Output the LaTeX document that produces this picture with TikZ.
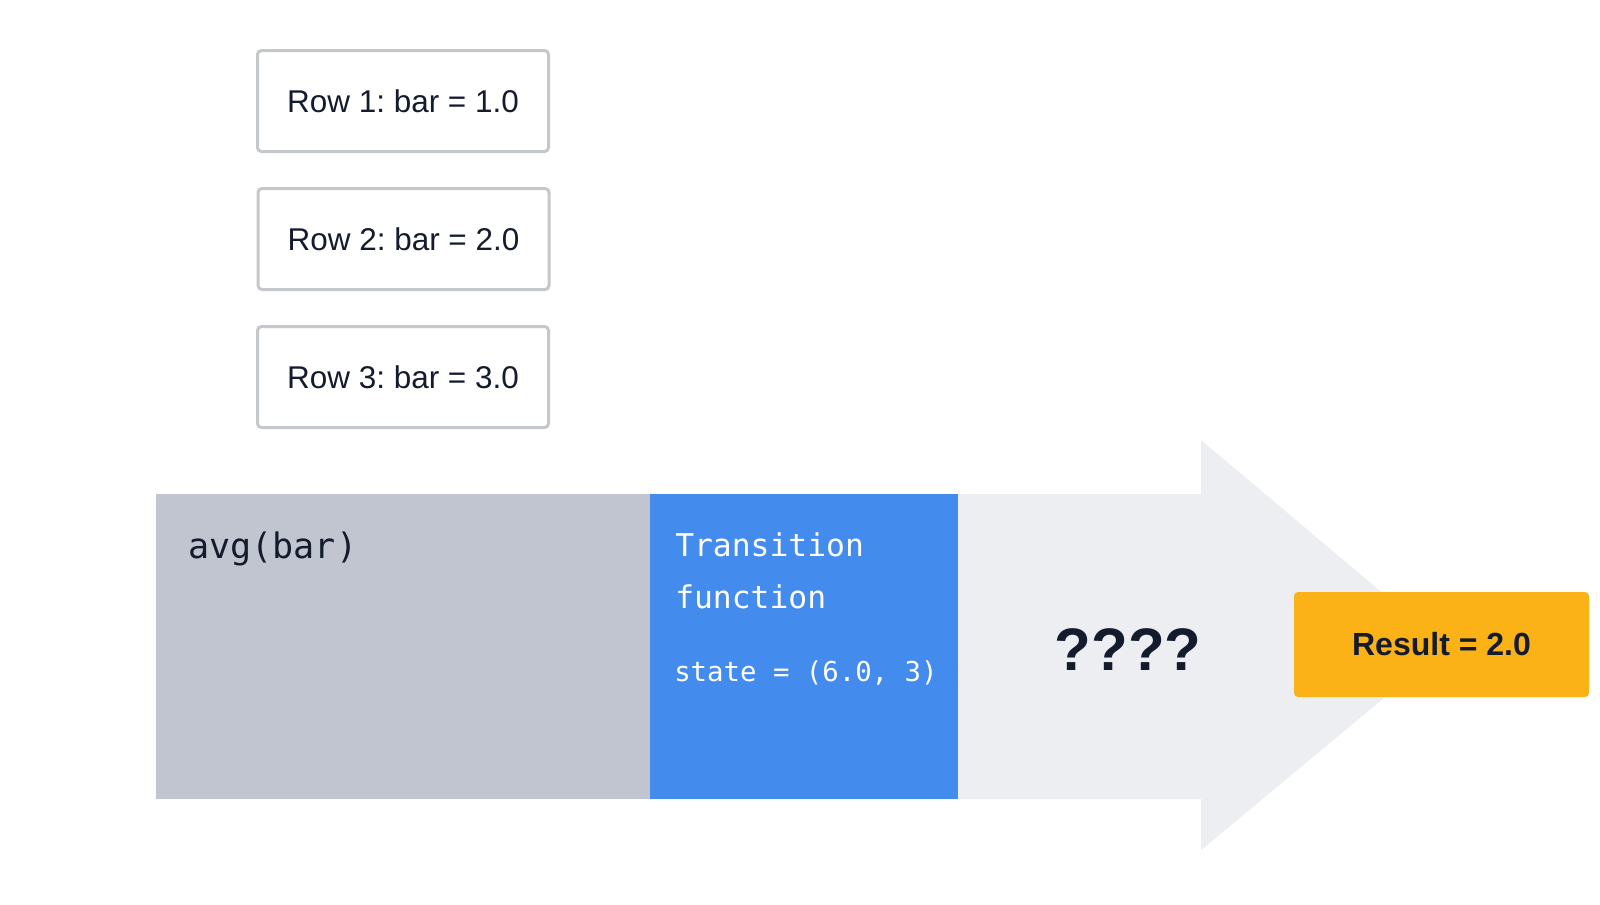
\documentclass[tikz,border=0pt]{standalone}
\usepackage{fontspec}
\setmainfont{Liberation Sans}
\setmonofont{DejaVu Sans Mono}
\frenchspacing
\definecolor{ink}{HTML}{141B2D}
\definecolor{rowborder}{HTML}{C4C7CC}
\definecolor{bodygray}{HTML}{C0C5CF}
\definecolor{arrowgray}{HTML}{ECEEF1}
\definecolor{fnblue}{HTML}{448BEE}
\definecolor{amber}{HTML}{FBB216}
\tikzset{
  rowbox/.style={draw=rowborder, line width=2.25pt, rounded corners=3pt, fill=white,
    minimum width=218.25pt, minimum height=75.75pt, inner sep=0pt,
    font=\fontsize{23.6pt}{28pt}\selectfont, text=ink},
  panel/.style={inner sep=0pt, outer sep=0pt, minimum height=228.75pt},
  codetitle/.style={anchor=base west, inner sep=0pt, font=\ttfamily\fontsize{23.5pt}{28pt}\selectfont},
  codesmall/.style={anchor=base west, inner sep=0pt, font=\ttfamily\fontsize{20.5pt}{25pt}\selectfont, text=white},
  resultbox/.style={fill=amber, rounded corners=3pt, minimum width=221.25pt, minimum height=78.75pt,
    inner sep=0pt, font=\bfseries\fontsize{24pt}{28pt}\selectfont, text=ink}
}
\begin{document}
\begin{tikzpicture}[x=0.75pt,y=-0.75pt]
\useasboundingbox[fill=white] (0,0) rectangle (1600,904);
% big arrow
\fill[arrowgray] (156,494) -- (1201,494) -- (1201,440) -- (1446,646.5) -- (1201,850) -- (1201,799) -- (156,799) -- cycle;
% panels
\node[panel, fill=bodygray, minimum width=370.5pt] (agg) at (403,646.5) {};
\node[panel, fill=fnblue, minimum width=231pt] (trans) at (804,646.5) {};
\node[codetitle, text=ink, font=\ttfamily\fontsize{26.3pt}{30pt}\selectfont] (avg) at (188,558) {avg(bar)};
\node[codetitle, text=white] (t1) at (675,556) {Transition};
\node[codetitle, text=white] (t2) at (675,608) {function};
\node[codesmall] (st) at (674,681) {state = (6.0, 3)};
% question marks
\node[anchor=base, inner sep=0pt, font=\bfseries\fontsize{45pt}{50pt}\selectfont, text=ink] (q) at (1128,670) {????};
% result
\node[resultbox] (res) at (1441.5,644.5) {Result = 2.0};
% rows
\node[rowbox] (r1) at (403,101) {Row 1: bar = 1.0};
\node[rowbox] (r2) at (403.5,239) {Row 2: bar = 2.0};
\node[rowbox] (r3) at (403,377) {Row 3: bar = 3.0};
\end{tikzpicture}
\end{document}
